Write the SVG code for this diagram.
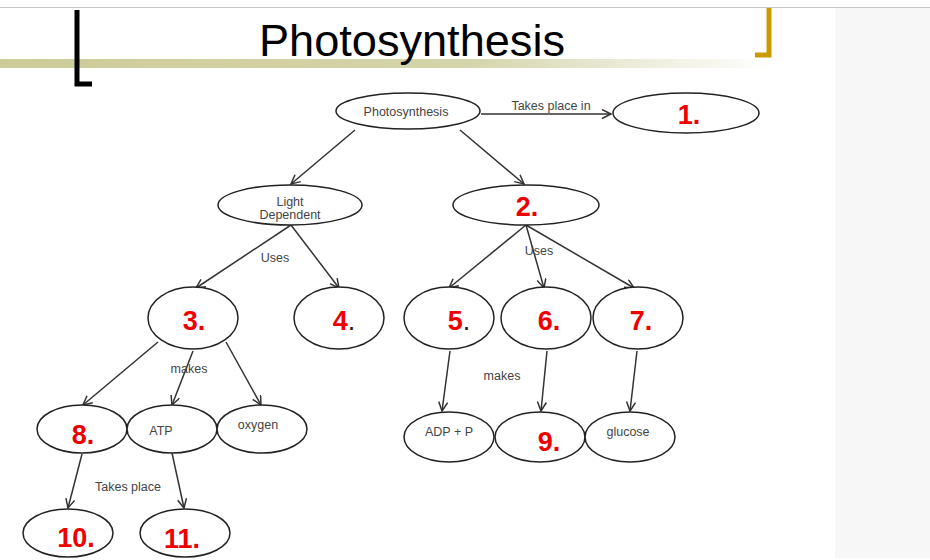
<svg xmlns="http://www.w3.org/2000/svg" width="930" height="560" viewBox="0 0 930 560">
<defs>
<linearGradient id="bar" x1="0" y1="0" x2="1" y2="0">
<stop offset="0" stop-color="#cccc99"/>
<stop offset="0.6" stop-color="#d4d4aa"/>
<stop offset="1" stop-color="#ffffff"/>
</linearGradient>
<marker id="arr" markerUnits="userSpaceOnUse" markerWidth="12" markerHeight="12" refX="10" refY="5" orient="auto">
<path d="M1,0.5 L10,5 L1,9.5" fill="none" stroke="#333" stroke-width="1.5"/>
</marker>
<style>
.n ellipse{fill:#fff;stroke:#222;stroke-width:1.5}
.t{font-family:"Liberation Sans",Arial,sans-serif;font-size:12.5px;fill:#444}
.r{font-family:"Liberation Sans",Arial,sans-serif;font-size:27px;font-weight:bold;fill:#ee0000;text-anchor:middle}
.k{fill:#222;font-weight:normal}
.c line{stroke:#333;stroke-width:1.5;marker-end:url(#arr)}
</style>
</defs>
<rect width="930" height="560" fill="#fff"/>
<line x1="0" y1="7.5" x2="930" y2="7.5" stroke="#c8c8c8"/>
<rect x="835" y="8" width="95" height="550" fill="#f7f7f7"/>
<rect x="0" y="59" width="772" height="9" fill="url(#bar)"/>
<path d="M77,10 V84 H92" fill="none" stroke="#000" stroke-width="5"/>
<path d="M769,8 V55 H755" fill="none" stroke="#cc9900" stroke-width="5"/>
<text x="412" y="56" font-family="Liberation Sans,Arial,sans-serif" font-size="45" text-anchor="middle" fill="#000" textLength="306" lengthAdjust="spacingAndGlyphs">Photosynthesis</text>

<g class="c">
<line x1="481" y1="114" x2="611" y2="114"/>
<line x1="355" y1="130" x2="291" y2="184"/>
<line x1="460" y1="130" x2="524" y2="184"/>
<line x1="291" y1="225" x2="196" y2="288"/>
<line x1="291" y1="225" x2="339" y2="288"/>
<line x1="526" y1="225" x2="449" y2="288"/>
<line x1="526" y1="225" x2="544" y2="288"/>
<line x1="526" y1="225" x2="634" y2="288"/>
<line x1="158" y1="342" x2="83" y2="405"/>
<line x1="193" y1="351" x2="172" y2="405"/>
<line x1="226" y1="342" x2="261" y2="405"/>
<line x1="82" y1="454" x2="68" y2="508"/>
<line x1="172" y1="453" x2="184" y2="508"/>
<line x1="450" y1="351" x2="442" y2="411"/>
<line x1="547" y1="351" x2="541" y2="411"/>
<line x1="637" y1="351" x2="630" y2="411"/>
<text class="t" x="551" y="110" text-anchor="middle">Takes place in</text>
<text class="t" x="275" y="262" text-anchor="middle">Uses</text>
<text class="t" x="539" y="255" text-anchor="middle">Uses</text>
<text class="t" x="189" y="373" text-anchor="middle">makes</text>
<text class="t" x="502" y="380" text-anchor="middle">makes</text>
<text class="t" x="128" y="491" text-anchor="middle">Takes place</text>
</g>

<g id="n-photo" class="n"><ellipse cx="408" cy="111" rx="72" ry="18"/><text class="t" x="406" y="116" text-anchor="middle">Photosynthesis</text></g>
<g id="n1" class="n"><ellipse cx="686" cy="113" rx="73" ry="20"/><text class="r" x="689" y="124">1.</text></g>
<g id="n-light" class="n"><ellipse cx="290" cy="205" rx="72" ry="20"/><text class="t" x="290" y="206" text-anchor="middle">Light</text><text class="t" x="290" y="219" text-anchor="middle">Dependent</text></g>
<g id="n2" class="n"><ellipse cx="526" cy="205" rx="73" ry="20"/><text class="r" x="527" y="216">2.</text></g>
<g id="n3" class="n"><ellipse cx="193" cy="318" rx="45" ry="31"/><text class="r" x="194" y="330">3.</text></g>
<g id="n4" class="n"><ellipse cx="339" cy="318" rx="45" ry="31"/><text class="r" x="344" y="330">4<tspan class="k">.</tspan></text></g>
<g id="n5" class="n"><ellipse cx="449" cy="318" rx="45" ry="31"/><text class="r" x="459" y="330">5<tspan class="k">.</tspan></text></g>
<g id="n6" class="n"><ellipse cx="546" cy="318" rx="45" ry="31"/><text class="r" x="549" y="330">6.</text></g>
<g id="n7" class="n"><ellipse cx="638" cy="318" rx="45" ry="31"/><text class="r" x="641" y="330">7.</text></g>
<g id="n8" class="n"><ellipse cx="82" cy="429" rx="45" ry="24"/><text class="r" x="83" y="444">8.</text></g>
<g id="n-atp" class="n"><ellipse cx="172" cy="429" rx="45" ry="24"/><text class="t" x="161" y="435" text-anchor="middle">ATP</text></g>
<g id="n-oxygen" class="n"><ellipse cx="262" cy="429" rx="45" ry="24"/><text class="t" x="258" y="429" text-anchor="middle">oxygen</text></g>
<g id="n10" class="n"><ellipse cx="68" cy="533" rx="45" ry="24"/><text class="r" x="76" y="547">10.</text></g>
<g id="n11" class="n"><ellipse cx="185" cy="533" rx="45" ry="24"/><text class="r" x="182" y="548">11.</text></g>
<g id="n-adp" class="n"><ellipse cx="449" cy="437" rx="45" ry="25"/><text class="t" x="449" y="436" text-anchor="middle">ADP + P</text></g>
<g id="n9" class="n"><ellipse cx="540" cy="437" rx="45" ry="25"/><text class="r" x="549" y="451">9.</text></g>
<g id="n-glucose" class="n"><ellipse cx="630" cy="437" rx="45" ry="25"/><text class="t" x="628" y="436" text-anchor="middle">glucose</text></g>
</svg>
